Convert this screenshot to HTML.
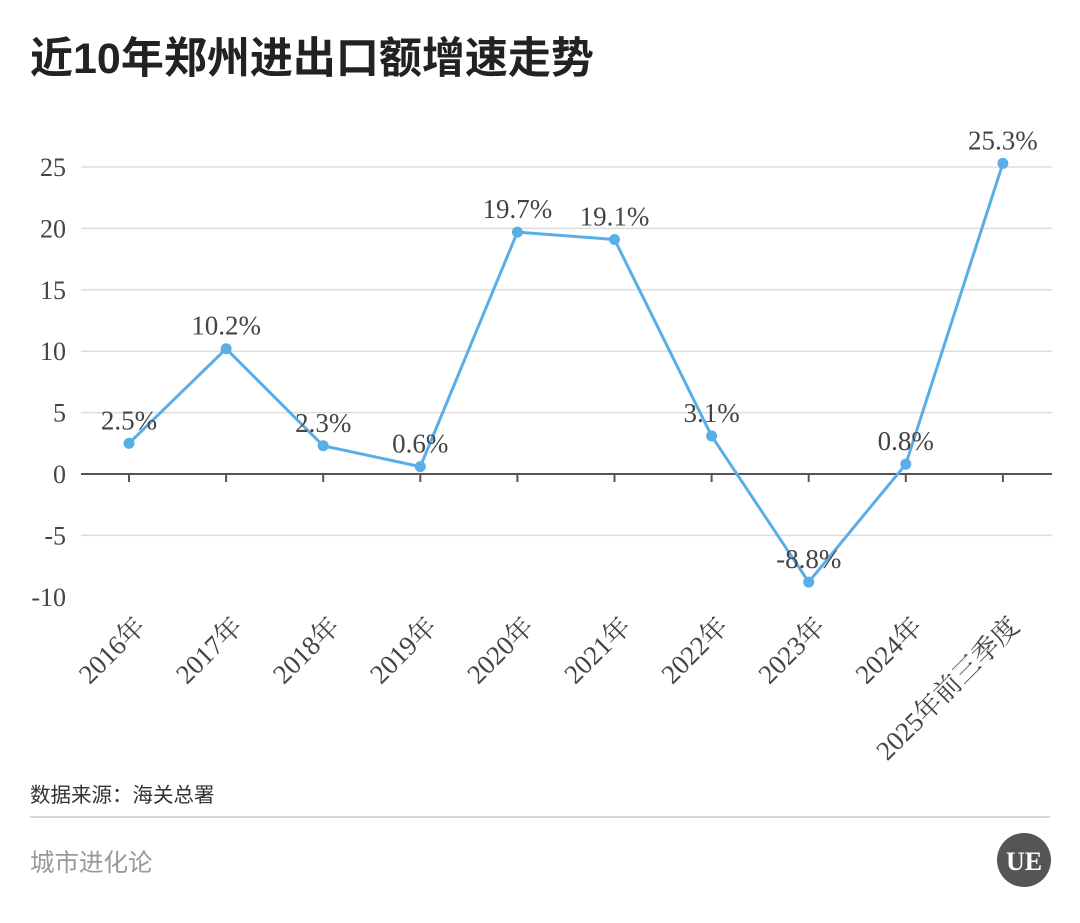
<!DOCTYPE html>
<html><head><meta charset="utf-8"><style>
body{margin:0;background:#fff;width:1080px;height:918px;overflow:hidden;}
svg text{font-family:"Liberation Serif","Noto Serif CJK SC",serif;}
</style></head><body>
<svg width="1080" height="918" id="c">
<text x="30" y="73" font-size="43" font-weight="bold" fill="#222" style='font-family:"Liberation Sans","Noto Sans CJK SC",sans-serif'>近10年郑州进出口额增速走势</text>
<text x="30" y="802" font-size="20.5" fill="#333" style='font-family:"Liberation Sans","Noto Sans CJK SC",sans-serif'>数据来源：海关总署</text>
<line x1="30" y1="817" x2="1050" y2="817" stroke="#ccc" stroke-width="1.5"/>
<text x="30" y="871" font-size="24.5" fill="#999" style='font-family:"Liberation Sans","Noto Sans CJK SC",sans-serif'>城市进化论</text>
<circle cx="1024" cy="860" r="27" fill="#555"/>
<text x="1024" y="870" font-size="26" fill="#fff" text-anchor="middle" font-weight="bold">UE</text>
<g id="plot"></g>
</svg>
<script>
const categories=["2016年","2017年","2018年","2019年","2020年","2021年","2022年","2023年","2024年","2025年前三季度"];
const values=[2.5,10.2,2.3,0.6,19.7,19.1,3.1,-8.8,0.8,25.3];
const labels=["2.5%","10.2%","2.3%","0.6%","19.7%","19.1%","3.1%","-8.8%","0.8%","25.3%"];
const yTicks=[25,20,15,10,5,0,-5,-10];
const NS="http://www.w3.org/2000/svg";
const g=document.getElementById('plot');
const y=v=>474-v*12.28;
const x=i=>129+i*97.1;
function mk(t,a){const e=document.createElementNS(NS,t);for(const k in a)e.setAttribute(k,a[k]);g.appendChild(e);return e;}
yTicks.forEach(t=>{
  if(t!==0&&t!==-10){const l=mk('line',{x1:81,x2:1052,y1:y(t),y2:y(t),stroke:'#ddd','stroke-width':1.5});
  
  }
  const tx=mk('text',{x:66,y:y(t)+9,'font-size':26,fill:'#444','text-anchor':'end'});tx.textContent=t;
  
  
});
const ax=mk('line',{x1:81,x2:1052,y1:474,y2:474,stroke:'#555','stroke-width':2});


categories.forEach((c,i)=>{
  const tk=mk('line',{x1:x(i),x2:x(i),y1:474,y2:482,stroke:'#555','stroke-width':2});
  
  
  const px=x(i)+18, py=628;
  const t=mk('text',{x:px,y:py,'font-size':27,fill:'#444','text-anchor':'end',transform:`rotate(-45 ${px} ${py})`});
  t.textContent=c;
  
  
});
const pl=mk('polyline',{points:values.map((v,i)=>x(i)+','+y(v)).join(' '),fill:'none',stroke:'#5aaee8','stroke-width':3,'stroke-linejoin':'round'});


values.forEach((v,i)=>{
  const c=mk('circle',{cx:x(i),cy:y(v),r:5.5,fill:'#5aaee8'});
  
  
  const t=mk('text',{x:x(i),y:y(v)-14,'font-size':27,fill:'#444','text-anchor':'middle'});
  t.textContent=labels[i];
  
  
});
</script>
</body></html>
